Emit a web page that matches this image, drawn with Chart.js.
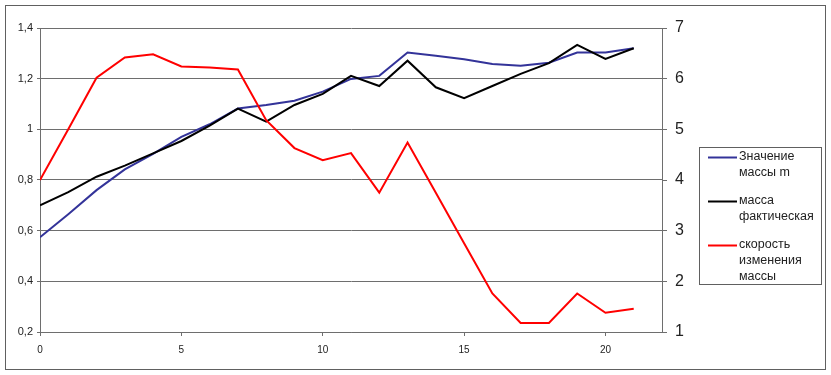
<!DOCTYPE html>
<html>
<head>
<meta charset="utf-8">
<script src="https://cdn.jsdelivr.net/npm/chart.js@4/dist/chart.umd.min.js"></script>
<style>
  html, body { margin: 0; padding: 0; background: #fff; }
  canvas { display: block; }
</style>
</head>
<body>
<canvas id="chart" width="831" height="375"></canvas>
<script>
// x = шаг (0..21)
const steps = [0, 1, 2, 3, 4, 5, 6, 7, 8, 9, 10, 11, 12, 13, 14, 15, 16, 17, 18, 19, 20, 21];

// левая ось
const massModel = [0.574, 0.665, 0.76, 0.842, 0.903, 0.97, 1.02, 1.082, 1.096, 1.113, 1.149,
  1.199, 1.211, 1.303, 1.29, 1.277, 1.258, 1.251, 1.263, 1.303, 1.303, 1.32];
const massActual = [0.70, 0.752, 0.813, 0.857, 0.905, 0.954, 1.015, 1.082, 1.03, 1.096, 1.14,
  1.211, 1.171, 1.271, 1.166, 1.123, 1.171, 1.219, 1.261, 1.333, 1.278, 1.32];
// правая ось
const massRate = [4.0, 5.0, 6.02, 6.42, 6.48, 6.24, 6.22, 6.18, 5.18, 4.63, 4.39,
  4.53, 3.75, 4.74, 3.75, 2.75, 1.76, 1.18, 1.18, 1.76, 1.38, 1.46];

const seriesNames = [
  ['Значение', 'массы m'],
  ['масса', 'фактическая'],
  ['скорость', 'изменения', 'массы']
];

const leftTickLabels = ['0,2', '0,4', '0,6', '0,8', '1', '1,2', '1,4'];
const rightTickLabels = ['1', '2', '3', '4', '5', '6', '7'];
const xTickLabels = ['0', '5', '10', '15', '20'];

const GRID = '#6e6e6e';
const toPoints = (ys) => ys.map((y, i) => ({x: steps[i], y}));

Chart.defaults.font.family = `"Liberation Sans", Arial, sans-serif`;
Chart.defaults.color = '#222';

// рамка вокруг всей диаграммы
const frame = {
  id: 'frame',
  beforeDraw(chart) {
    const ctx = chart.ctx;
    ctx.save();
    ctx.fillStyle = '#fff';
    ctx.fillRect(0, 0, chart.width, chart.height);
    ctx.strokeStyle = '#606060';
    ctx.lineWidth = 1;
    ctx.strokeRect(5.5, 5.5, 820, 364);
    ctx.restore();
  }
};

// легенда справа, с переносом строк
const sideLegend = {
  id: 'sideLegend',
  afterDraw(chart) {
    const ctx = chart.ctx;
    ctx.save();
    ctx.strokeStyle = '#606060';
    ctx.lineWidth = 1;
    ctx.strokeRect(699.5, 147.5, 122, 137);
    ctx.font = `12.5px "Liberation Sans", Arial, sans-serif`;
    ctx.textBaseline = 'middle';
    ctx.fillStyle = '#222';
    chart.data.datasets.forEach((ds, i) => {
      const y0 = 157 + 44 * i;
      ctx.strokeStyle = ds.borderColor;
      ctx.lineWidth = 2;
      ctx.beginPath();
      ctx.moveTo(708, y0 + 0.5);
      ctx.lineTo(737, y0 + 0.5);
      ctx.stroke();
      seriesNames[i].forEach((line, k) => {
        ctx.fillText(line, 739, y0 + 16 * k);
      });
    });
    ctx.restore();
  }
};

new Chart(document.getElementById('chart'), {
  type: 'line',
  data: {
    datasets: [
      {label: seriesNames[0].join(' '), data: toPoints(massModel), borderColor: '#333399', yAxisID: 'y', order: 2},
      {label: seriesNames[1].join(' '), data: toPoints(massActual), borderColor: '#000000', yAxisID: 'y', order: 1},
      {label: seriesNames[2].join(' '), data: toPoints(massRate), borderColor: '#ff0000', yAxisID: 'y1', order: 0}
    ]
  },
  options: {
    responsive: false,
    animation: false,
    layout: {padding: {left: 0, right: 129, top: 28, bottom: 13}},
    elements: {
      line: {borderWidth: 2, tension: 0},
      point: {radius: 0}
    },
    plugins: {
      legend: {display: false},
      tooltip: {enabled: false}
    },
    scales: {
      x: {
        type: 'linear',
        min: 0,
        max: 22,
        afterBuildTicks: (scale) => {
          scale.ticks = scale.ticks.filter((t) => t.value % 5 === 0);
        },
        afterFit: (scale) => { scale.height = 30; },
        ticks: {
          stepSize: 5,
          font: {size: 10},
          padding: 8,
          maxRotation: 0,
          callback: (v) => xTickLabels[v / 5]
        },
        grid: {drawOnChartArea: false, color: GRID, tickLength: 4},
        border: {color: GRID}
      },
      y: {
        position: 'left',
        min: 0.2,
        max: 1.4,
        afterFit: (scale) => { scale.width = 40; },
        ticks: {
          stepSize: 0.2,
          font: {size: 11},
          padding: 4,
          callback: (v, i) => leftTickLabels[i]
        },
        grid: {color: GRID, tickLength: 3},
        border: {color: GRID}
      },
      y1: {
        position: 'right',
        min: 1,
        max: 7,
        afterFit: (scale) => { scale.width = 40; },
        ticks: {
          stepSize: 1,
          font: {size: 16},
          padding: 8,
          callback: (v, i) => rightTickLabels[i]
        },
        grid: {drawOnChartArea: false, color: GRID, tickLength: 5},
        border: {color: GRID}
      }
    }
  },
  plugins: [frame, sideLegend]
});
</script>
</body>
</html>
